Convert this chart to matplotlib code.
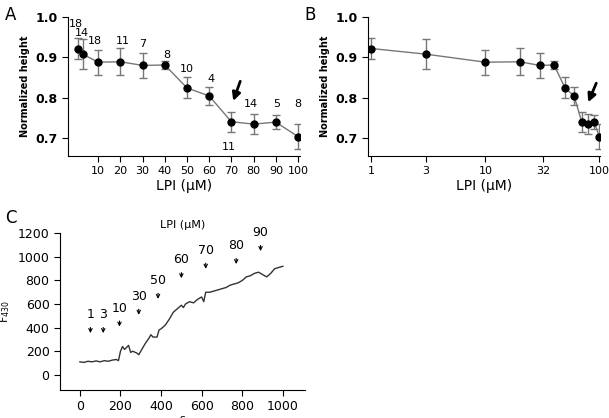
import matplotlib
matplotlib.use("Agg")
import matplotlib.pyplot as plt

conc = [1, 3, 10, 20, 30, 40, 50, 60, 70, 80, 90, 100]
height = [0.922, 0.908, 0.888, 0.889, 0.880, 0.881, 0.824, 0.804, 0.740, 0.734, 0.739, 0.703]
err = [0.025, 0.038, 0.031, 0.034, 0.032, 0.011, 0.026, 0.023, 0.025, 0.025, 0.018, 0.032]
n_labels = ["18", "14", "18", "11", "7", "8", "10", "4", "11", "14", "5", "8"]
n_pos = [(0, 0.983), (2.5, 0.960), (8.5, 0.940), (21, 0.940), (30, 0.932), (41, 0.907),
         (50, 0.872), (61, 0.845), (69, 0.677), (79, 0.785), (90.5, 0.785), (100, 0.785)]

t = [0, 20, 40, 60, 80, 100, 120, 140, 160, 180, 190, 200, 210, 220, 240, 250, 260, 280, 290,
     300, 320, 340, 350, 360, 380, 390, 400, 420, 440, 460, 480, 500, 510, 520, 540, 560, 580, 600,
     610, 620, 640, 660, 680, 700, 720, 740, 760, 780, 800, 820, 840, 860, 880, 900, 920, 940, 960, 980, 1000]
F = [110, 105, 115, 110, 118, 110, 120, 115, 125, 130, 120, 200, 240, 215, 250, 190, 200, 185, 170,
     200, 260, 310, 340, 320, 320, 380, 390, 420, 470, 530, 560, 590, 570, 600, 620, 610, 640, 660,
     620, 700, 700, 710, 720, 730, 740, 760, 770, 780, 800, 830, 840, 860, 870, 850, 830, 860, 900, 910, 920]
c_labels = ["1", "3", "10", "30", "50", "60", "70", "80", "90"]
c_pos = [(52, 455), (115, 455), (195, 510), (290, 610), (385, 745), (500, 920), (620, 1000), (770, 1040), (890, 1150)]

fig = plt.figure(figsize=(6.09, 4.18), dpi=100)
gray = "#777777"

def style(ax, size=9):
    for s in ["top", "right"]:
        ax.spines[s].set_visible(False)
    ax.tick_params(labelsize=size, length=4)

for left, logx in [(0.112, False), (0.604, True)]:
    ax = fig.add_axes([left, 0.627, 0.381, 0.332])
    ax.errorbar(conc, height, yerr=err, color=gray, ecolor=gray, capsize=3, lw=1,
                marker="o", mfc="black", mec="black", ms=5)
    ax.set_ylim(0.655, 1.0)
    ax.set_yticks([0.7, 0.8, 0.9, 1.0])
    ax.set_xlabel("LPI (µM)", fontsize=10, labelpad=2)
    ax.set_ylabel("Normalized height", fontsize=7, fontweight="bold")
    style(ax, 8)
    for l in ax.get_yticklabels():
        l.set_fontweight("bold")
        l.set_fontsize(9)
    if logx:
        ax.set_xscale("log")
        ax.set_xlim(0.93, 101)
        ax.set_xticks([1, 3, 10, 32, 100])
        ax.set_xticklabels(["1", "3", "10", "32", "100"])
        ax.minorticks_off()
        ax.annotate("", xy=(78, 0.782), xytext=(96, 0.842),
                    arrowprops=dict(arrowstyle="-|>", color="black", lw=2, mutation_scale=12))
    else:
        ax.set_xlim(-3.5, 101)
        ax.set_xticks([10, 20, 30, 40, 50, 60, 70, 80, 90, 100])
        for lb, (x, y) in zip(n_labels, n_pos):
            ax.text(x, y, lb, ha="center", va="center", fontsize=8)
        ax.annotate("", xy=(70.4, 0.785), xytext=(74.4, 0.847),
                    arrowprops=dict(arrowstyle="-|>", color="black", lw=2, mutation_scale=12))

axC = fig.add_axes([0.0985, 0.068, 0.402, 0.374])
axC.plot(t, F, color="#333333", lw=1)
axC.set_xlim(-98, 1108)
axC.set_ylim(-125, 1200)
axC.set_xticks([0, 200, 400, 600, 800, 1000])
axC.set_yticks([0, 200, 400, 600, 800, 1000, 1200])
for lb, (x, y) in zip(c_labels, c_pos):
    axC.text(x, y, lb, ha="center", va="bottom", fontsize=9)
    axC.annotate("", xy=(x, y - 125), xytext=(x, y - 30),
                 arrowprops=dict(arrowstyle="->", color="black", lw=0.8, mutation_scale=6))
axC.set_title("LPI (µM)", fontsize=8, pad=4)
axC.set_xlabel("s", fontsize=8, labelpad=1)
axC.set_ylabel("F$_{430}$", fontsize=8)
style(axC, 9)

fig.text(0.008, 0.985, "A", fontsize=12, va="top")
fig.text(0.500, 0.985, "B", fontsize=12, va="top")
fig.text(0.008, 0.50, "C", fontsize=12, va="top")

fig.savefig("out.png", dpi=100)
